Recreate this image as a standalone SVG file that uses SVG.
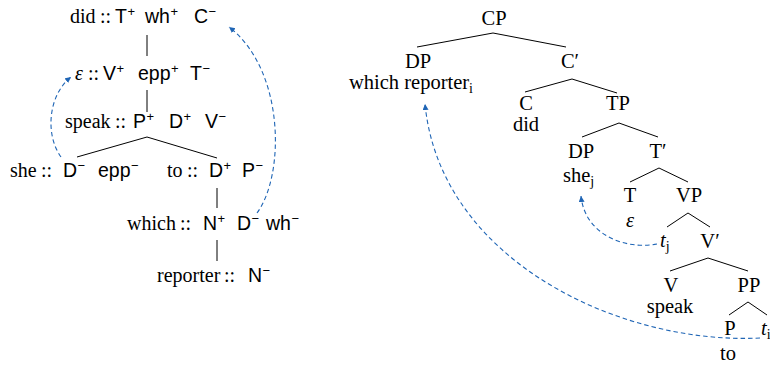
<svg xmlns="http://www.w3.org/2000/svg" width="770" height="365" viewBox="0 0 770 365">
<style>
.w{font-family:"Liberation Serif","Times New Roman",serif;font-size:20px;fill:#000}
.f{font-family:"Liberation Sans",Arial,sans-serif;font-size:19.5px}
.s{font-family:"Liberation Sans",Arial,sans-serif;font-size:13px}
.r{font-family:"Liberation Serif","Times New Roman",serif;font-size:20.5px;fill:#000}
.rm{text-anchor:middle}
.sub{font-size:14px}
.it{font-style:italic}
.e{stroke:#000;stroke-width:1;fill:none}
.mv{stroke:#1f65b5;stroke-width:1.1;fill:none;stroke-dasharray:4.5 3}
</style>
<defs>
<marker id="ah" markerUnits="userSpaceOnUse" markerWidth="8" markerHeight="8" refX="6" refY="3" orient="auto">
<path d="M0,0 L6,3 L0,6 z" fill="#1f65b5"/>
</marker>
</defs>

<g id="left-tree">
<g id="n-did"><text class="w" y="23"><tspan x="70">did</tspan><tspan x="100">::</tspan><tspan class="f" x="115">T</tspan><tspan class="s" x="127.5" y="15.5">+</tspan><tspan class="f" x="145" y="23">wh</tspan><tspan class="s" x="170.5" y="15.5">+</tspan><tspan class="f" x="194" y="23">C</tspan><tspan class="s" x="208.5" y="15.5">−</tspan></text></g>
<g id="n-eps"><text class="w" y="80"><tspan class="it" x="75">ε</tspan><tspan x="88">::</tspan><tspan class="f" x="103">V</tspan><tspan class="s" x="116.5" y="72.5">+</tspan><tspan class="f" x="138" y="80">epp</tspan><tspan class="s" x="171" y="72.5">+</tspan><tspan class="f" x="190" y="80">T</tspan><tspan class="s" x="202.5" y="72.5">−</tspan></text></g>
<g id="n-speak"><text class="w" y="128"><tspan x="65">speak</tspan><tspan x="115">::</tspan><tspan class="f" x="133">P</tspan><tspan class="s" x="146.5" y="120.5">+</tspan><tspan class="f" x="169" y="128">D</tspan><tspan class="s" x="183.5" y="120.5">+</tspan><tspan class="f" x="205" y="128">V</tspan><tspan class="s" x="218.5" y="120.5">−</tspan></text></g>
<g id="n-she"><text class="w" y="177"><tspan x="10">she</tspan><tspan x="41">::</tspan><tspan class="f" x="63">D</tspan><tspan class="s" x="77.5" y="169.5">−</tspan><tspan class="f" x="98" y="177">epp</tspan><tspan class="s" x="131" y="169.5">−</tspan></text></g>
<g id="n-to"><text class="w" y="177"><tspan x="167">to</tspan><tspan x="187">::</tspan><tspan class="f" x="209">D</tspan><tspan class="s" x="223.5" y="169.5">+</tspan><tspan class="f" x="242" y="177">P</tspan><tspan class="s" x="255.5" y="169.5">−</tspan></text></g>
<g id="n-which"><text class="w" y="230"><tspan x="127">which</tspan><tspan x="180">::</tspan><tspan class="f" x="203">N</tspan><tspan class="s" x="217.5" y="222.5">+</tspan><tspan class="f" x="237" y="230">D</tspan><tspan class="s" x="251.5" y="222.5">−</tspan><tspan class="f" x="266" y="230">wh</tspan><tspan class="s" x="291.5" y="222.5">−</tspan></text></g>
<g id="n-reporter"><text class="w" y="282"><tspan x="157">reporter</tspan><tspan x="224">::</tspan><tspan class="f" x="248">N</tspan><tspan class="s" x="262.5" y="274.5">−</tspan></text></g>
</g>

<g id="right-tree">
<g id="r-CP"><text class="r rm" x="494" y="25">CP</text></g>
<g id="r-DP1"><text class="r rm" x="418" y="68">DP</text><text class="r" x="349" y="89">which reporter<tspan class="sub" dy="4">i</tspan></text></g>
<g id="r-Cbar"><text class="r rm" x="570" y="68">C′</text></g>
<g id="r-C"><text class="r rm" x="526" y="110">C</text><text class="r rm" x="526" y="131">did</text></g>
<g id="r-TP"><text class="r rm" x="618" y="110">TP</text></g>
<g id="r-DP2"><text class="r rm" x="581" y="158">DP</text><text class="r" x="563" y="182">she<tspan class="sub" dy="4">j</tspan></text></g>
<g id="r-Tbar"><text class="r rm" x="658" y="158">T′</text></g>
<g id="r-T"><text class="r rm" x="630" y="202">T</text><text class="r rm it" x="630" y="227">ε</text></g>
<g id="r-VP"><text class="r rm" x="689" y="202">VP</text></g>
<g id="r-tj"><text class="r it" x="660" y="247">t<tspan class="sub" style="font-style:normal" dy="4">j</tspan></text></g>
<g id="r-Vbar"><text class="r rm" x="710" y="248">V′</text></g>
<g id="r-V"><text class="r rm" x="671" y="292">V</text><text class="r rm" x="670" y="313">speak</text></g>
<g id="r-PP"><text class="r rm" x="749" y="292">PP</text></g>
<g id="r-P"><text class="r rm" x="730" y="335">P</text><text class="r rm" x="728" y="360">to</text></g>
<g id="r-ti"><text class="r it" x="761" y="335">t<tspan class="sub" style="font-style:normal" dy="4">i</tspan></text></g>
</g>

<g id="connectors">
<line class="e" x1="147" y1="35" x2="147" y2="56"/>
<line class="e" x1="147" y1="90" x2="147" y2="112"/>
<polyline class="e" points="77,157 147,137 217,158"/>
<line class="e" x1="217" y1="188" x2="217" y2="208"/>
<line class="e" x1="217" y1="240" x2="217" y2="261"/>

<polyline class="e" points="417,47 493,33 566,47"/>
<polyline class="e" points="525,92 572,79 617,93"/>
<polyline class="e" points="582,137 619,123 658,137"/>
<polyline class="e" points="630,182 659,168 688,182"/>
<polyline class="e" points="667,227 688,213 710,227"/>
<polyline class="e" points="670,271 708,258 748,271"/>
<polyline class="e" points="729,315 748,302 767,315"/>

<path class="mv" d="M61,157 C45,135 48,95 71,77" marker-end="url(#ah)"/>
<path class="mv" d="M257,213 C285,175 285,70 229,27" marker-end="url(#ah)"/>
<path class="mv" d="M657,244 C625,250 585,235 581,196" marker-end="url(#ah)"/>
<path class="mv" d="M760,338 C620,345 440,260 425,104" marker-end="url(#ah)"/>
</g>
</svg>
